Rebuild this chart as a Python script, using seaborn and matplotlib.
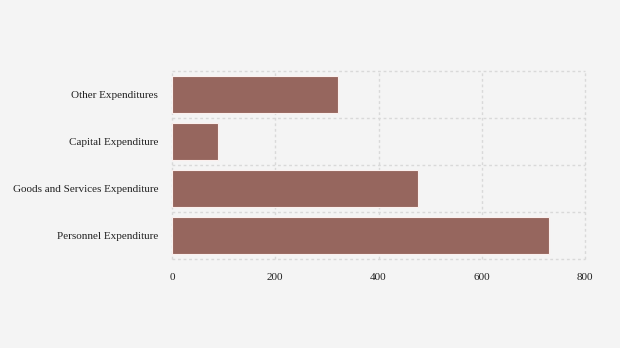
import matplotlib
matplotlib.use("Agg")
import matplotlib.pyplot as plt
import seaborn as sns
import pandas as pd
from matplotlib.ticker import FixedLocator

categories = ["Other Expenditures", "Capital Expenditure",
              "Goods and Services Expenditure", "Personnel Expenditure"]
values = [322, 89, 477, 730]
x_ticks = [0, 200, 400, 600, 800]

sns.set_theme(style="white")
plt.rcParams['font.family'] = ['Liberation Serif', 'DejaVu Serif']

df = pd.DataFrame({"category": categories, "value": values})

fig = plt.figure(figsize=(6.2, 3.48), dpi=100, facecolor="#f4f4f4")
ax = fig.add_axes([172/620, 1-259/348, (585-172)/620, (259-71)/348])
ax.set_facecolor("#f4f4f4")

sns.barplot(data=df, x="value", y="category", order=categories, color="#96665e",
            saturation=1, width=0.8, edgecolor="#fbf0ee", linewidth=0.8, ax=ax, zorder=3)

ax.set_xlim(0, 800)
ax.set_ylim(len(categories)-0.5, -0.5)
ax.set_xticks(x_ticks)
ax.set_xticklabels([str(t) for t in x_ticks])
ax.yaxis.set_minor_locator(FixedLocator([i-0.5 for i in range(len(categories)+1)]))
ax.grid(False)
ax.grid(True, axis="x", which="major", color="#d9d9d9", linestyle=(0, (2, 2)), linewidth=1, zorder=0)
ax.grid(True, axis="y", which="minor", color="#d9d9d9", linestyle=(0, (2, 2)), linewidth=1, zorder=0)
for t in ax.xaxis.get_major_ticks() + ax.yaxis.get_minor_ticks():
    t.gridline.set_clip_on(False)
for s in ax.spines.values():
    s.set_visible(False)
ax.set_xlabel("")
ax.set_ylabel("")
ax.tick_params(axis="y", which="major", length=3, color="#dddddd", pad=7, labelsize=8, labelcolor="#222222")
ax.tick_params(axis="y", which="minor", length=0)
ax.tick_params(axis="x", length=0, pad=10, labelsize=8, labelcolor="#222222")

fig.savefig("out.png", dpi=100, facecolor="#f4f4f4")
